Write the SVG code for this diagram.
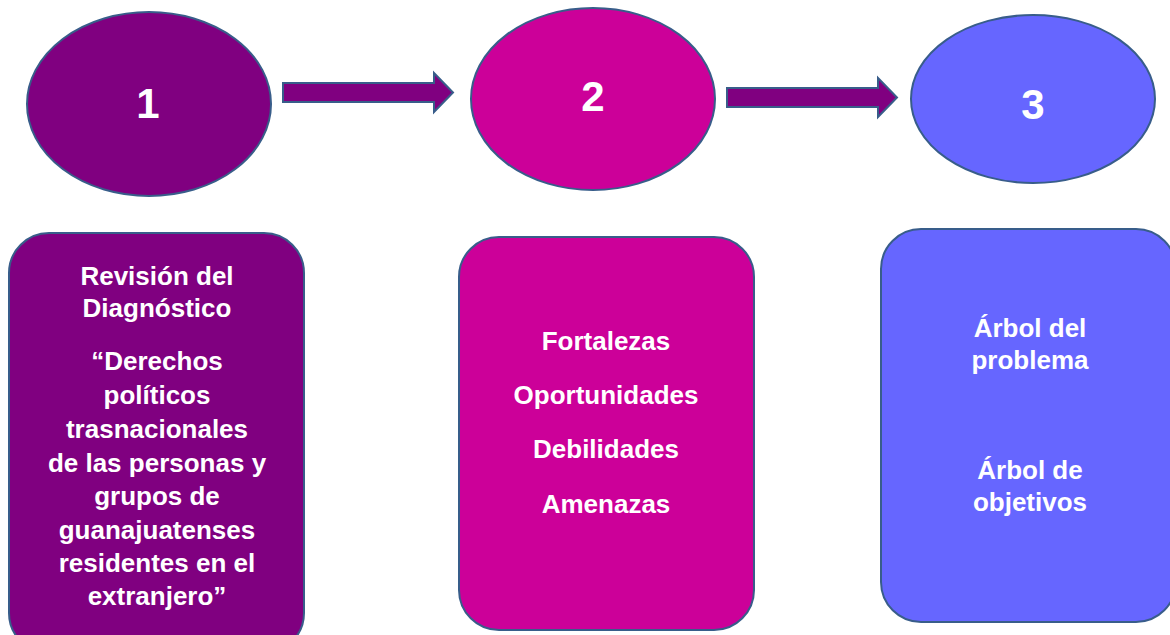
<svg xmlns="http://www.w3.org/2000/svg" width="1170" height="635" viewBox="0 0 1170 635">
<style>
.sh{stroke:#385D8A;stroke-width:2}
.p{fill:#800080}
.m{fill:#CC0099}
.b{fill:#6666FF}
text{font-family:"Liberation Sans",Arial,sans-serif;font-weight:bold;fill:#FFFFFF;text-anchor:middle}
.num{font-size:42px}
.t{font-size:26px}
</style>
<rect width="1170" height="635" fill="#FFFFFF"/>
<g id="connectors">
<polygon class="sh p" points="283,83 434,83 434,73 453,92.5 434,112 434,102 283,102"/>
<polygon class="sh p" points="727,88 878,88 878,78 897,97.5 878,117 878,107 727,107"/>
</g>
<g id="circle1">
<ellipse class="sh p" cx="149" cy="104" rx="122" ry="92"/>
<text class="num" x="148" y="118">1</text>
</g>
<g id="circle2">
<ellipse class="sh m" cx="593" cy="99" rx="122" ry="91"/>
<text class="num" x="593" y="111">2</text>
</g>
<g id="circle3">
<ellipse class="sh b" cx="1033" cy="99" rx="122" ry="84"/>
<text class="num" x="1033" y="119">3</text>
</g>
<g id="box1">
<rect class="sh p" x="9" y="233" width="295" height="420" rx="40"/>
<text class="t" x="157" y="285">Revisión del</text>
<text class="t" x="157" y="317">Diagnóstico</text>
<text class="t" x="157" y="370">“Derechos</text>
<text class="t" x="157" y="404">políticos</text>
<text class="t" x="157" y="438">trasnacionales</text>
<text class="t" x="157" y="472">de las personas y</text>
<text class="t" x="157" y="505">grupos de</text>
<text class="t" x="157" y="539">guanajuatenses</text>
<text class="t" x="157" y="572">residentes en el</text>
<text class="t" x="157" y="605">extranjero”</text>
</g>
<g id="box2">
<rect class="sh m" x="459" y="237" width="295" height="393" rx="40"/>
<text class="t" x="606" y="350">Fortalezas</text>
<text class="t" x="606" y="404">Oportunidades</text>
<text class="t" x="606" y="458">Debilidades</text>
<text class="t" x="606" y="513">Amenazas</text>
</g>
<g id="box3">
<rect class="sh b" x="881" y="229" width="295" height="393" rx="40"/>
<text class="t" x="1030" y="337">Árbol del</text>
<text class="t" x="1030" y="369">problema</text>
<text class="t" x="1030" y="479">Árbol de</text>
<text class="t" x="1030" y="511">objetivos</text>
</g>
</svg>
